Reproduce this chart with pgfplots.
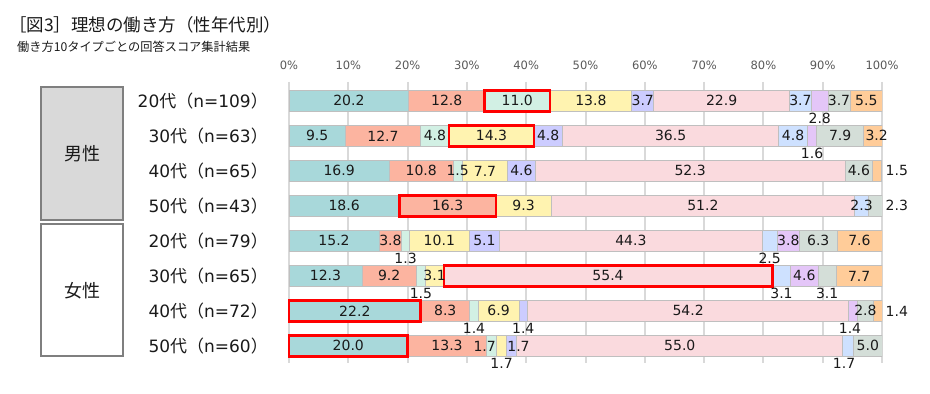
\documentclass[border=0pt]{standalone}
\usepackage{pgfplots}
\pgfplotsset{compat=1.18}
\usepackage{pgfplotstable}
\usepackage{fontspec}
\setmainfont{DejaVu Sans}
\newfontfamily\cjk{Noto Sans CJK JP}

\definecolor{c1}{RGB}{168,216,218}
\definecolor{c2}{RGB}{252,180,160}
\definecolor{c3}{RGB}{210,240,228}
\definecolor{c4}{RGB}{255,243,176}
\definecolor{c5}{RGB}{204,204,255}
\definecolor{c6}{RGB}{250,218,222}
\definecolor{c7}{RGB}{206,225,255}
\definecolor{c8}{RGB}{228,198,248}
\definecolor{c9}{RGB}{212,222,216}
\definecolor{c10}{RGB}{255,204,153}
\definecolor{gridc}{RGB}{217,217,217}
\definecolor{edgec}{RGB}{191,191,191}
\definecolor{txt}{RGB}{26,26,26}
\definecolor{ticktxt}{RGB}{89,89,89}
\definecolor{boxfill}{RGB}{217,217,217}
\definecolor{boxedge}{RGB}{127,127,127}

\pgfplotstableread{
r a b c d e f g h i j
1 20.2 12.8 11.0 13.8 3.7 22.9 3.7 2.8 3.7 5.5
2 9.5 12.7 4.8 14.3 4.8 36.5 4.8 1.6 7.9 3.2
3 16.9 10.8 1.5 7.7 4.6 52.3 0 0 4.6 1.5
4 18.6 16.3 0 9.3 0 51.2 2.3 0 2.3 0
5 15.2 3.8 1.3 10.1 5.1 44.3 2.5 3.8 6.3 7.6
6 12.3 9.2 1.5 3.1 0 55.4 3.1 4.6 3.1 7.7
7 22.2 8.3 1.4 6.9 1.4 54.2 0 1.4 2.8 1.4
8 20.0 13.3 1.7 1.7 1.7 55.0 1.7 0 5.0 0
}\bars

\pgfplotstableread{
x y t
10.1 1 20.2
26.6 1 12.8
38.5 1 11.0
50.9 1 13.8
59.65 1 3.7
72.95 1 22.9
86.25 1 3.7
92.75 1 3.7
97.35 1 5.5
89.5 1.49 2.8
4.75 2 9.5
15.85 2 12.7
24.6 2 4.8
34.15 2 14.3
43.7 2 4.8
64.35 2 36.5
85.0 2 4.8
92.95 2 7.9
99.1 2 3.2
88.2 2.49 1.6
8.45 3 16.9
22.3 3 10.8
28.45 3 1.5
33.05 3 7.7
39.2 3 4.6
67.65 3 52.3
96.1 3 4.6
102.5 3 1.5
9.3 4 18.6
26.75 4 16.3
39.55 4 9.3
69.8 4 51.2
96.55 4 2.3
102.5 4 2.3
7.6 5 15.2
17.1 5 3.8
25.35 5 10.1
32.95 5 5.1
57.65 5 44.3
84.2 5 3.8
89.25 5 6.3
96.2 5 7.6
19.65 5.49 1.3
81.05 5.49 2.5
6.15 6 12.3
16.9 6 9.2
24.55 6 3.1
53.8 6 55.4
86.9 6 4.6
96.15 6 7.7
22.25 6.49 1.5
83.05 6.49 3.1
90.75 6.49 3.1
11.1 7 22.2
26.35 7 8.3
35.35 7 6.9
67.3 7 54.2
97.2 7 2.8
31.2 7.49 1.4
39.5 7.49 1.4
94.6 7.49 1.4
102.5 7 1.4
10.0 8 20.0
26.65 8 13.3
33.0 8 1.7
38.7 8 1.7
65.9 8 55.0
97.6 8 5.0
35.85 8.49 1.7
93.6 8.49 1.7
}\labels

\newcommand\rl[2]{#1{\cjk 代（}n=#2{\cjk ）}}

\pgfplotsset{
  common/.style={
    at={(289bp,30.6bp)}, anchor=south west,
    scale only axis, width=593bp, height=281.4bp,
    xmin=0, xmax=100, ymin=0.46, ymax=8.5, y dir=reverse,
  }
}

\begin{document}
\begin{tikzpicture}
\path[use as bounding box] (0,0) rectangle (930bp,394bp);

\node[anchor=west, inner sep=0pt, font=\cjk\fontsize{17.5bp}{20bp}\selectfont, text=txt] at (9bp,369bp) {［図3］理想の働き方（性年代別）};
\node[anchor=west, inner sep=0pt, font=\cjk\fontsize{12.2bp}{15bp}\selectfont, text=txt] at (17bp,347bp) {働き方10タイプごとの回答スコア集計結果};

\draw[fill=boxfill, draw=boxedge, line width=1.5bp] (41bp,174bp) rectangle (123bp,307bp);
\draw[fill=white, draw=boxedge, line width=1.5bp] (41bp,38bp) rectangle (123bp,170bp);
\node[font=\cjk\fontsize{18bp}{20bp}\selectfont, text=txt] at (82bp,240bp) {男性};
\node[font=\cjk\fontsize{18bp}{20bp}\selectfont, text=txt] at (82bp,103bp) {女性};

\begin{axis}[common,
  xbar stacked, bar width=0.6,
  xtick={0,10,...,100},
  xticklabel={\pgfmathprintnumber{\tick}\%},
  xticklabel pos=upper,
  ytick={1,...,8},
  yticklabels={\rl{20}{109},\rl{30}{63},\rl{40}{65},\rl{50}{43},\rl{20}{79},\rl{30}{65},\rl{40}{72},\rl{50}{60}},
  xmajorgrids, major grid style={draw=gridc, line width=2bp},
  axis line style={draw=none}, major tick length=0pt,
  /pgf/number format/assume math mode=true,
  xticklabel style={font=\fontsize{11.5bp}{13bp}\selectfont, text=ticktxt, anchor=base, inner sep=0pt, yshift=12bp},
  yticklabel style={font=\fontsize{17bp}{20bp}\selectfont, text=txt, anchor=east, inner sep=0pt, xshift=-21bp},
  every axis plot/.append style={draw=edgec, line width=0.8bp},
]
\addplot[fill=c1] table[x=a, y=r] \bars;
\addplot[fill=c2] table[x=b, y=r] \bars;
\addplot[fill=c3] table[x=c, y=r] \bars;
\addplot[fill=c4] table[x=d, y=r] \bars;
\addplot[fill=c5] table[x=e, y=r] \bars;
\addplot[fill=c6] table[x=f, y=r] \bars;
\addplot[fill=c7] table[x=g, y=r] \bars;
\addplot[fill=c8] table[x=h, y=r] \bars;
\addplot[fill=c9] table[x=i, y=r] \bars;
\addplot[fill=c10] table[x=j, y=r] \bars;
\end{axis}

\begin{axis}[common, hide axis, clip=false]
\addplot[draw=red, line width=2.5bp] coordinates {(33.0,0.7) (44.0,0.7) (44.0,1.3) (33.0,1.3)} -- cycle;
\addplot[draw=red, line width=2.5bp] coordinates {(27.0,1.7) (41.3,1.7) (41.3,2.3) (27.0,2.3)} -- cycle;
\addplot[draw=red, line width=2.5bp] coordinates {(18.6,3.7) (34.9,3.7) (34.9,4.3) (18.6,4.3)} -- cycle;
\addplot[draw=red, line width=2.5bp] coordinates {(26.1,5.7) (81.5,5.7) (81.5,6.3) (26.1,6.3)} -- cycle;
\addplot[draw=red, line width=2.5bp] coordinates {(0,6.7) (22.2,6.7) (22.2,7.3) (0,7.3)} -- cycle;
\addplot[draw=red, line width=2.5bp] coordinates {(0,7.7) (20.0,7.7) (20.0,8.3) (0,8.3)} -- cycle;
\addplot[draw=none, mark=none, nodes near coords, point meta=explicit symbolic,
  every node near coord/.append style={anchor=center, inner sep=0pt, font=\fontsize{14bp}{16bp}\selectfont, text=txt}]
  table[x=x, y=y, meta=t] \labels;
\end{axis}
\end{tikzpicture}
\end{document}
